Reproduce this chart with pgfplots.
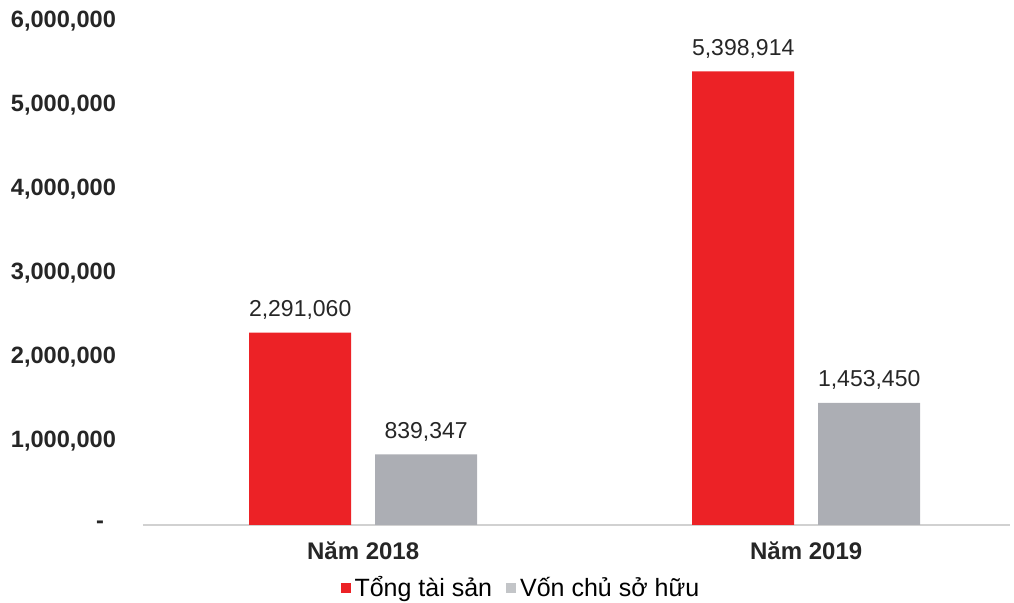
\documentclass[border=0pt]{standalone}
\usepackage{fontspec}
\setmainfont{Liberation Sans}
\usepackage{pgfplots}
\pgfplotsset{compat=1.18}
\definecolor{barred}{RGB}{236,34,38}
\definecolor{bargray}{RGB}{172,174,180}
\definecolor{leggray}{RGB}{195,197,200}
\begin{document}
\begin{tikzpicture}
\begin{axis}[
    scale only axis,
    width=433.5pt, height=252pt,
    ybar=12pt, bar width=51pt,
    xmin=-0.497, xmax=1.46,
    ymin=0, ymax=6000000,
    scaled y ticks=false,
    xtick={0,1},
    xticklabels={Năm 2018,Năm 2019},
    ytick={0,1000000,2000000,3000000,4000000,5000000,6000000},
    yticklabels={{\mbox{-\hspace{6pt}}},{1,000,000},{2,000,000},{3,000,000},{4,000,000},{5,000,000},{6,000,000}},
    yticklabel style={font=\fontsize{11.8}{13}\selectfont\bfseries, xshift=-10pt, text=black!85},
    xticklabel style={font=\fontsize{12}{14}\selectfont\bfseries, yshift=-5pt, text=black!85},
    major tick length=0pt,
    axis x line*=bottom, axis y line*=left,
    y axis line style={draw=none},
    x axis line style={draw=black!18, line width=0.8pt},
    /pgf/number format/.cd, fixed, precision=0, 1000 sep={,}, assume math mode=true,
    /pgfplots/.cd,
    nodes near coords,
    nodes near coords style={font=\fontsize{11.5}{13}\selectfont, yshift=3pt, text=black!85},
    legend columns=2,
    legend style={draw=none, fill=none, at={(0.437,0)}, anchor=center, yshift=-31.5pt,
        font=\fontsize{12.5}{15}\selectfont,
        /tikz/every even column/.append style={column sep=5pt}},
    legend image code/.code={\fill[#1] (0pt,-2.5pt) rectangle (5pt,2.5pt);},
]
\addplot[fill=barred, draw=none] coordinates {(0,2291060) (1,5398914)};
\addplot[fill=bargray, draw=none, legend image code/.code={\fill[leggray] (0pt,-2.5pt) rectangle (5pt,2.5pt);}] coordinates {(0,839347) (1,1453450)};
\legend{Tổng tài sản, Vốn chủ sở hữu}
\end{axis}
\pgfresetboundingbox
\path[use as bounding box] (-71.5pt,-39pt) rectangle (435.5pt,262.5pt);
\end{tikzpicture}
\end{document}
